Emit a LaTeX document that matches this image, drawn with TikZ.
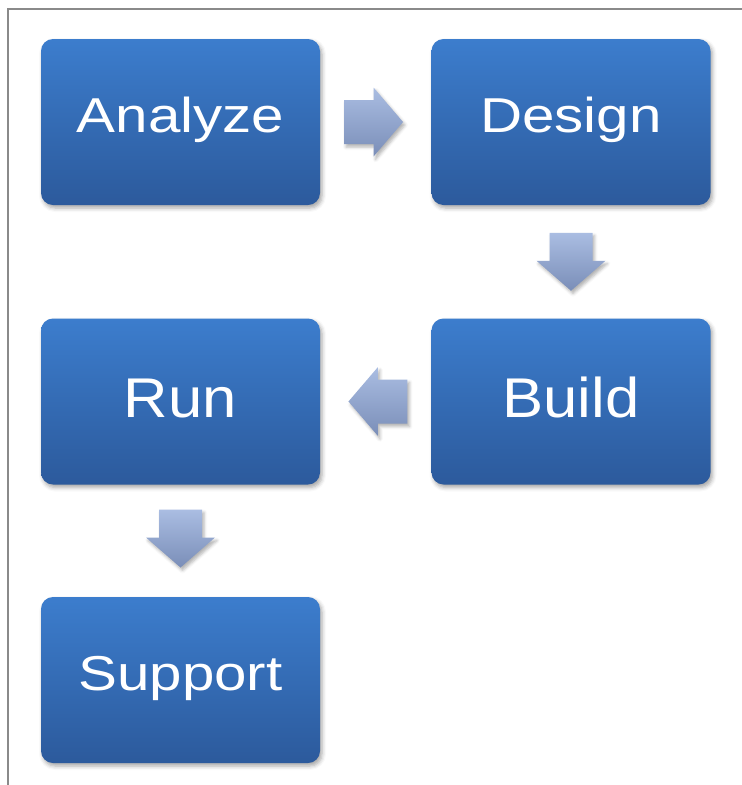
\documentclass[tikz,border=0pt]{standalone}
\usepackage{fontspec}
\setmainfont{Liberation Sans}
\newfontfamily\smallboxfont[FakeStretch=1.19]{Liberation Sans}
\newfontfamily\bigboxfont[FakeStretch=1.1]{Liberation Sans}
\usetikzlibrary{shadows.blur,calc}
\definecolor{boxtop}{HTML}{3C7DCD}
\definecolor{boxbot}{HTML}{2C5A9C}
\definecolor{arrtop}{HTML}{AABDE2}
\definecolor{arrbot}{HTML}{7A8EB8}
\definecolor{framegray}{HTML}{8A8A8A}
\tikzset{
  stepbox/.style={rectangle, rounded corners=12pt, minimum width=279pt, minimum height=166pt,
    inner sep=0pt, top color=boxtop, bottom color=boxbot, text=white,
    blur shadow={shadow xshift=2pt, shadow yshift=-3pt, shadow blur radius=4pt, shadow opacity=35}},
  smalltext/.style={font=\smallboxfont\fontsize{49}{59}\selectfont, text height=35pt, text depth=14pt},
  bigtext/.style={font=\bigboxfont\fontsize{56}{67}\selectfont, text height=40pt, text depth=9pt},
  flowarrow/.style={top color=arrtop, bottom color=arrbot,
    blur shadow={shadow xshift=2pt, shadow yshift=-3pt, shadow blur radius=3pt, shadow opacity=30}},
}
% horizontal arrow at centre #1, direction #2 (1 = right, -1 = left)
\newcommand\hflow[2]{%
  \begin{scope}[shift={(#1)}, xscale=#2]
    \path[flowarrow] (-29.5,-22) -- (0,-22) -- (0,-34.5) -- (29.5,0) -- (0,34.5) -- (0,22) -- (-29.5,22) -- cycle;
  \end{scope}}
% downward arrow at centre #1
\newcommand\vflow[1]{%
  \begin{scope}[shift={(#1)}]
    \path[flowarrow] (-21.5,-29) -- (21.5,-29) -- (21.5,-1) -- (34.5,-1) -- (0,29) -- (-34.5,-1) -- (-21.5,-1) -- cycle;
  \end{scope}}
\begin{document}
\begin{tikzpicture}[x=1pt,y=-1pt]
\useasboundingbox (0,0) rectangle (742,785);
\draw[framegray, line width=1.8pt] (742,9) -- (8,9) -- (8,785);
\node[stepbox, smalltext] (analyze) at (180.5,122) {Analyze};
\node[stepbox, smalltext] (design) at (571,122) {Design};
\node[stepbox, bigtext] (build) at (571,401.5) {Build};
\node[stepbox, bigtext] (run) at (180.5,401.5) {Run};
\node[stepbox, smalltext] (support) at (180.5,680) {Support};
\coordinate (m1) at ($(analyze.east)!0.48!(design.west)$);
\coordinate (m2) at ($(design.south)!0.5!(build.north)$);
\coordinate (m3) at ($(build.west)!0.48!(run.east)$);
\coordinate (m4) at ($(run.south)!0.48!(support.north)$);
\hflow{m1}{1}
\vflow{m2}
\hflow{m3}{-1}
\vflow{m4}
\end{tikzpicture}
\end{document}
